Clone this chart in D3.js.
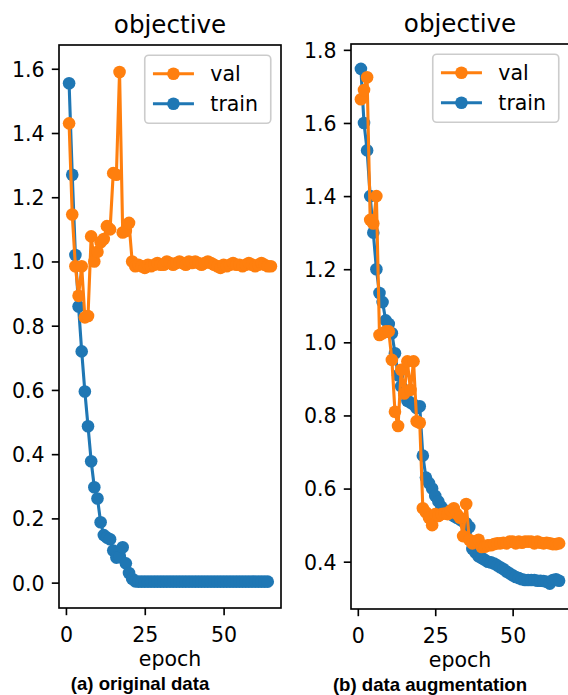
<!DOCTYPE html>
<html><head><meta charset="utf-8">
<script src="https://cdn.jsdelivr.net/npm/d3@7"></script>
<style>body{margin:0;background:#fff}svg{display:block}</style>
</head><body>
<svg id="c" width="568" height="695"></svg>
<script>
const epochs = [1,2,3,4,5,6,7,8,9,10,11,12,13,14,15,16,17,18,19,20,21,22,23,24,25,26,27,28,29,30,31,32,33,34,35,36,37,38,39,40,41,42,43,44,45,46,47,48,49,50,51,52,53,54,55,56,57,58,59,60,61,62,63,64,65];

// (a) original data
const trainA = [1.555,1.27,1.02,0.86,0.72,0.595,0.487,0.378,0.297,0.262,0.188,0.148,0.14,0.135,0.10,0.078,0.08,0.11,0.06,0.03,0.012,0.004,
 0.003,0.003,0.003,0.003,0.003,0.003,0.003,0.003,0.003,0.003,0.003,0.003,0.003,0.003,0.003,0.003,0.003,0.003,0.003,0.003,0.003,
 0.003,0.003,0.003,0.003,0.003,0.003,0.003,0.003,0.003,0.003,0.003,0.003,0.003,0.003,0.003,0.003,0.003,0.003,0.003,0.003,0.003];
const valA = [1.43,1.146,0.985,0.893,0.985,0.826,0.83,1.078,1.0,1.03,1.06,1.07,1.11,1.10,1.275,1.27,1.59,1.09,1.095,1.12,1.0,0.985,
 0.99,0.985,0.98,0.99,0.985,0.99,0.995,0.99,0.99,1.0,0.995,0.99,0.995,1.0,0.995,0.99,1.0,0.995,1.0,0.995,0.99,0.995,1.0,0.995,
 0.99,0.985,0.98,0.99,0.985,0.99,0.995,0.99,0.99,0.985,0.99,0.995,0.99,0.985,0.99,0.995,0.99,0.985,0.985];

// (b) data augmentation
const trainB = [1.748,1.60,1.525,1.40,1.30,1.20,1.135,1.11,1.06,1.05,1.025,0.97,0.91,0.88,0.86,0.84,0.835,0.83,0.82,0.825,
 0.69,0.63,0.615,0.60,0.58,0.565,0.55,0.54,0.535,0.53,0.525,0.52,0.515,0.51,0.505,0.495,0.435,0.425,0.415,0.41,
 0.405,0.40,0.398,0.395,0.39,0.385,0.38,0.373,0.368,0.363,0.358,0.355,0.352,0.35,0.35,0.35,0.35,0.348,0.348,0.347,
 0.345,0.34,0.35,0.352,0.348];
const valB = [1.665,1.69,1.725,1.335,1.325,1.40,1.02,1.025,1.03,1.03,0.952,0.81,0.771,0.925,0.86,0.948,0.87,0.948,0.784,0.78,
 0.546,0.535,0.52,0.50,0.53,0.525,0.53,0.532,0.53,0.54,0.546,0.53,0.52,0.47,0.558,0.46,0.45,0.455,0.46,0.44,
 0.441,0.445,0.445,0.448,0.45,0.45,0.452,0.45,0.455,0.455,0.45,0.455,0.452,0.455,0.455,0.455,0.45,0.455,0.452,0.45,
 0.452,0.45,0.448,0.448,0.45];

const xTicks = [0,25,50];
const yTicksA = [0.0,0.2,0.4,0.6,0.8,1.0,1.2,1.4,1.6];
const yTicksB = [0.4,0.6,0.8,1.0,1.2,1.4,1.6,1.8];
const seriesNames = ["val","train"];
const titleText = "objective";
const xLabel = "epoch";
const captions = ["(a) original data","(b) data augmentation"];

const BLUE = "#1f77b4", ORANGE = "#ff7f0e";
const FONT = "'DejaVu Sans', sans-serif";
const svg = d3.select("#c");

function panel(cfg){
  const x = d3.scaleLinear().domain(cfg.xDom).range([cfg.left, cfg.right]);
  const y = d3.scaleLinear().domain(cfg.yDom).range([cfg.bottom, cfg.top]);
  const g = svg.append("g");
  const clipId = "clip" + cfg.id;
  g.append("clipPath").attr("id", clipId).append("rect")
    .attr("x", cfg.left).attr("y", cfg.top).attr("width", cfg.right-cfg.left).attr("height", cfg.bottom-cfg.top);
  const plot = g.append("g").attr("clip-path", `url(#${clipId})`);
  const line = d3.line().x((d,i)=>x(epochs[i])).y(d=>y(d));
  [[cfg.train, BLUE],[cfg.val, ORANGE]].forEach(([data,col])=>{
    plot.append("path").datum(data).attr("d", line).attr("fill","none")
      .attr("stroke", col).attr("stroke-width", 3.1).attr("stroke-linejoin","round");
    plot.selectAll(null).data(data).enter().append("circle")
      .attr("cx",(d,i)=>x(epochs[i])).attr("cy",d=>y(d)).attr("r",6.3).attr("fill",col);
  });
  const ax = d3.axisBottom(x).tickValues(xTicks).tickSize(7.2).tickPadding(7.2).tickFormat(d3.format("d"));
  const gx = g.append("g").attr("transform",`translate(0,${cfg.bottom})`).call(ax);
  const ay = d3.axisLeft(y).tickValues(cfg.yTicks).tickSize(7.2).tickPadding(7.2).tickFormat(d3.format(".1f"));
  const gy = g.append("g").attr("transform",`translate(${cfg.left},0)`).call(ay);
  [gx,gy].forEach(a=>{
    a.select(".domain").remove();
    a.selectAll(".tick line").attr("stroke","#000").attr("stroke-width",1.64);
    a.selectAll(".tick text").attr("fill","#000").style("font-family",FONT).style("font-size","20.5px");
  });
  gx.selectAll(".tick text").attr("dy","0.95em");
  gy.selectAll(".tick text").attr("dy","0.36em");
  g.append("rect").attr("x",cfg.left).attr("y",cfg.top).attr("width",cfg.right-cfg.left).attr("height",cfg.bottom-cfg.top)
    .attr("fill","none").attr("stroke","#000").attr("stroke-width",1.64);
  g.append("text").attr("x",(cfg.left+cfg.right)/2).attr("y",cfg.top-12.3).attr("text-anchor","middle")
    .style("font-family",FONT).style("font-size","24.6px").text(titleText);
  g.append("text").attr("x",(cfg.left+cfg.right)/2).attr("y",cfg.bottom+58).attr("text-anchor","middle")
    .style("font-family",FONT).style("font-size","20.5px").text(xLabel);
  const lw = 126, lh = 68;
  const lx = cfg.right - 10.25 - lw, ly = cfg.top + 10.25;
  const lg = g.append("g");
  lg.append("rect").attr("x",lx).attr("y",ly).attr("width",lw).attr("height",lh).attr("rx",4)
    .attr("fill","#fff").attr("fill-opacity",0.8).attr("stroke","#cccccc").attr("stroke-width",1.64);
  const cols = [ORANGE, BLUE];
  seriesNames.forEach((n,i)=>{
    const cy = ly + 18.5 + i*30;
    lg.append("line").attr("x1",lx+8.2).attr("x2",lx+49.2).attr("y1",cy).attr("y2",cy)
      .attr("stroke",cols[i]).attr("stroke-width",3.1);
    lg.append("circle").attr("cx",lx+28.7).attr("cy",cy).attr("r",6.3).attr("fill",cols[i]);
    lg.append("text").attr("x",lx+65.6).attr("y",cy).attr("dy","0.36em")
      .style("font-family",FONT).style("font-size","20.5px").text(n);
  });
  svg.append("text").attr("x",cfg.capX).attr("y",cfg.capY).attr("text-anchor","middle")
    .style("font-family","'Liberation Sans', Arial, sans-serif").style("font-weight","bold").style("font-size","18.6px")
    .text(cfg.caption);
}

panel({id:"a", left:59, right:281, top:45, bottom:608, xDom:[-2.2,68.2], yDom:[-0.079,1.674],
  yTicks:yTicksA, train:trainA, val:valA, caption:captions[0], capX:140, capY:690});
panel({id:"b", left:351, right:569, top:44, bottom:609, xDom:[-2.2,68.2], yDom:[0.2706,1.816],
  yTicks:yTicksB, train:trainB, val:valB, caption:captions[1], capX:430, capY:691});
</script>
</body></html>
